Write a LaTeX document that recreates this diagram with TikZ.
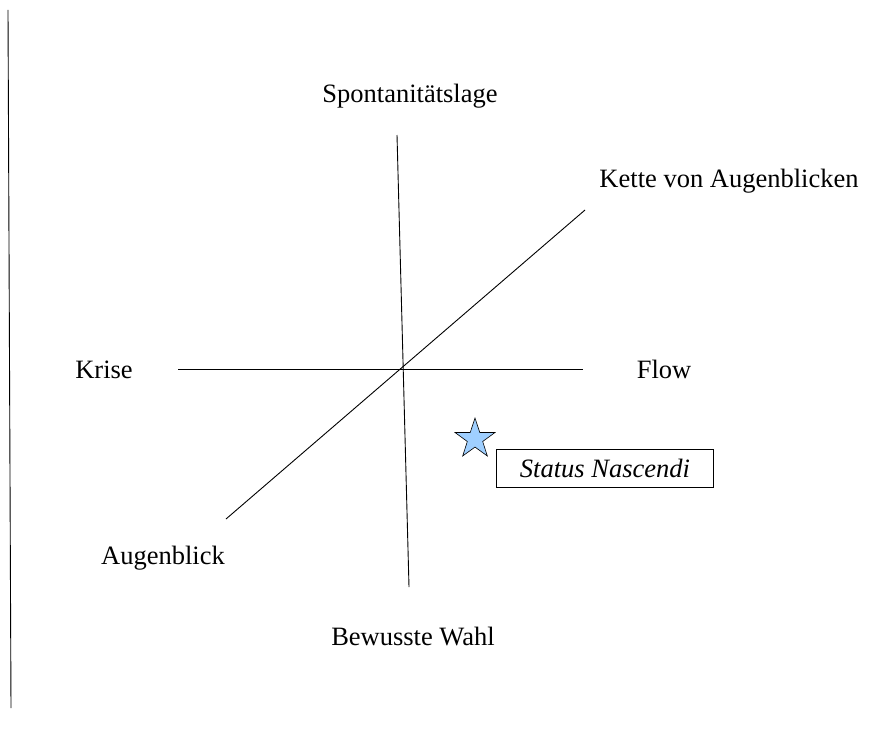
\documentclass[tikz,border=0pt]{standalone}
\usepackage{fontspec}
\setmainfont{Liberation Serif}
\usetikzlibrary{shapes.geometric}
\definecolor{starblue}{HTML}{9FCFFF}
\begin{document}
\begin{tikzpicture}[x=1pt,y=-1pt,
  axis/.style={line width=0.9pt},
  lbl/.style={font=\fontsize{26.5}{30}\selectfont, inner sep=0pt},
  markstar/.style={star, star points=5, star point ratio=2.6, minimum size=42pt, inner sep=0pt,
    fill=starblue, draw, line width=0.6pt},
  tagbox/.style={draw, line width=0.7pt, minimum width=217pt, minimum height=38pt, inner sep=0pt,
    font=\fontsize{26.5}{30}\selectfont\itshape}]
  \useasboundingbox (0,0) rectangle (874,733);

  % left margin rule
  \coordinate (rt) at (8,10);
  \coordinate (rb) at (11,708);
  \draw[axis] (rt) -- (rb);

  % axes
  \coordinate (vt) at (397,135);
  \coordinate (vb) at (409,587);
  \coordinate (hl) at (178,369);
  \coordinate (hr) at (583,369);
  \coordinate (dl) at (226,519);
  \coordinate (dr) at (585,210);
  \draw[axis] (vt) -- (vb);
  \draw[axis] (hl) -- (hr);
  \draw[axis] (dl) -- (dr);

  % axis labels
  \node[lbl] (spont) at (410,96) {Spontanitätslage};
  \node[lbl] (kette) at (729,181) {Kette von Augenblicken};
  \node[lbl] (krise) at (104,370) {Krise};
  \node[lbl] (flow) at (664,369) {Flow};
  \node[lbl] (aug) at (163,558) {Augenblick};
  \node[lbl] (wahl) at (413,636) {Bewusste Wahl};

  % marker and tag
  \node[markstar] (st) at (475,439) {};
  \node[tagbox] (sn) at (605,468) {Status Nascendi};
\end{tikzpicture}
\end{document}
